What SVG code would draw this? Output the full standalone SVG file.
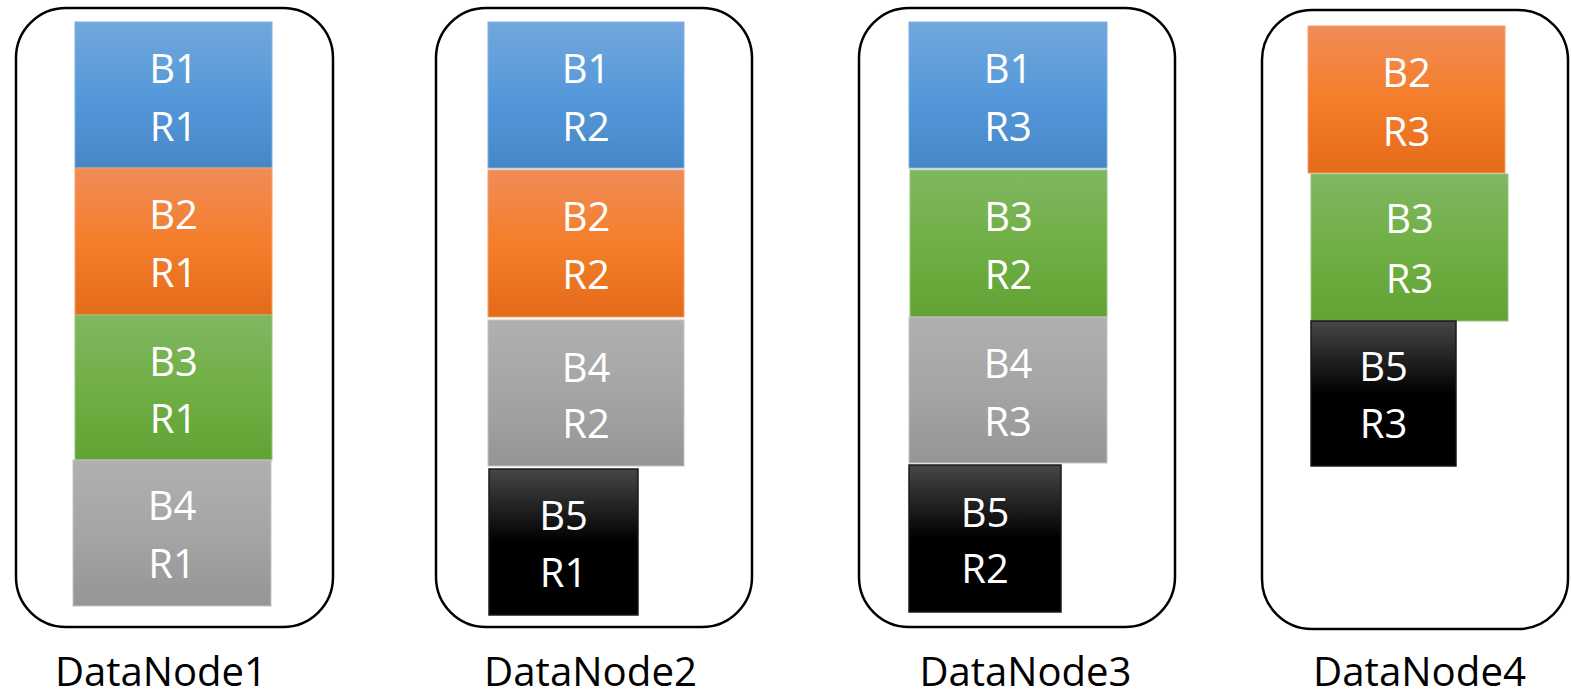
<svg xmlns="http://www.w3.org/2000/svg" width="1571" height="695" viewBox="0 0 1571 695">
  <defs>
    <linearGradient id="gBlue" x1="0" y1="0" x2="0" y2="1">
      <stop offset="0" stop-color="#72A7DC"/>
      <stop offset="0.5" stop-color="#5599DA"/>
      <stop offset="1" stop-color="#4686C6"/>
    </linearGradient>
    <linearGradient id="gOrange" x1="0" y1="0" x2="0" y2="1">
      <stop offset="0" stop-color="#F08C57"/>
      <stop offset="0.5" stop-color="#F47E2B"/>
      <stop offset="1" stop-color="#E46B19"/>
    </linearGradient>
    <linearGradient id="gGreen" x1="0" y1="0" x2="0" y2="1">
      <stop offset="0" stop-color="#80B762"/>
      <stop offset="0.5" stop-color="#70AF44"/>
      <stop offset="1" stop-color="#62A334"/>
    </linearGradient>
    <linearGradient id="gGray" x1="0" y1="0" x2="0" y2="1">
      <stop offset="0" stop-color="#B0B0B0"/>
      <stop offset="0.5" stop-color="#A5A5A5"/>
      <stop offset="1" stop-color="#959595"/>
    </linearGradient>
    <linearGradient id="gBlack" x1="0" y1="0" x2="0" y2="1">
      <stop offset="0" stop-color="#474747"/>
      <stop offset="0.5" stop-color="#000000"/>
      <stop offset="1" stop-color="#000000"/>
    </linearGradient>
  </defs>
  <style>
    .node { fill: #FFFFFF; stroke: #000000; stroke-width: 2.5; }
    .blue { fill: url(#gBlue); stroke: #7FB0E0; stroke-width: 1; }
    .orange { fill: url(#gOrange); stroke: #F4A070; stroke-width: 1; }
    .green { fill: url(#gGreen); stroke: #94C67A; stroke-width: 1; }
    .gray { fill: url(#gGray); stroke: #C4C4C4; stroke-width: 1; }
    .black { fill: url(#gBlack); stroke: #1A1A1A; stroke-width: 1.5; }
    .bt { font-family: "Open Sans", "Liberation Sans", sans-serif; font-size: 40px; fill: #FFFFFF; text-anchor: middle; }
    .lbl { font-family: "Open Sans", "Liberation Sans", sans-serif; font-size: 40px; fill: #000000; text-anchor: middle; }
  </style>

  <g id="datanode1">
    <rect class="node" x="16" y="8" width="317" height="619" rx="50" ry="50"/>
    <g id="dn1-b1"><rect class="blue" x="75" y="22" width="197" height="146"/><text class="bt" x="173.5" y="83">B1</text><text class="bt" x="173.5" y="141">R1</text></g>
    <g id="dn1-b2"><rect class="orange" x="75" y="168" width="197" height="147"/><text class="bt" x="173.5" y="229">B2</text><text class="bt" x="173.5" y="287">R1</text></g>
    <g id="dn1-b3"><rect class="green" x="75" y="315" width="197" height="145"/><text class="bt" x="173.5" y="376">B3</text><text class="bt" x="173.5" y="433">R1</text></g>
    <g id="dn1-b4"><rect class="gray" x="73" y="460" width="198" height="146"/><text class="bt" x="172" y="520">B4</text><text class="bt" x="172" y="578">R1</text></g>
    <text class="lbl" x="161" y="686" textLength="212" lengthAdjust="spacingAndGlyphs">DataNode1</text>
  </g>

  <g id="datanode2">
    <rect class="node" x="436" y="8" width="316" height="619" rx="50" ry="50"/>
    <g id="dn2-b1"><rect class="blue" x="488" y="22" width="196" height="146"/><text class="bt" x="586" y="83">B1</text><text class="bt" x="586" y="141">R2</text></g>
    <g id="dn2-b2"><rect class="orange" x="488" y="170" width="196" height="147"/><text class="bt" x="586" y="231">B2</text><text class="bt" x="586" y="289">R2</text></g>
    <g id="dn2-b4"><rect class="gray" x="488" y="320" width="196" height="146"/><text class="bt" x="586" y="382">B4</text><text class="bt" x="586" y="438">R2</text></g>
    <g id="dn2-b5"><rect class="black" x="489" y="469" width="149" height="146"/><text class="bt" x="563.5" y="530">B5</text><text class="bt" x="563.5" y="587">R1</text></g>
    <text class="lbl" x="590.5" y="686" textLength="213" lengthAdjust="spacingAndGlyphs">DataNode2</text>
  </g>

  <g id="datanode3">
    <rect class="node" x="859" y="8" width="316" height="619" rx="50" ry="50"/>
    <g id="dn3-b1"><rect class="blue" x="909" y="22" width="198" height="146"/><text class="bt" x="1008" y="83">B1</text><text class="bt" x="1008" y="141">R3</text></g>
    <g id="dn3-b3"><rect class="green" x="910" y="170" width="197" height="147"/><text class="bt" x="1008.5" y="231">B3</text><text class="bt" x="1008.5" y="289">R2</text></g>
    <g id="dn3-b4"><rect class="gray" x="909" y="317" width="198" height="146"/><text class="bt" x="1008" y="378">B4</text><text class="bt" x="1008" y="436">R3</text></g>
    <g id="dn3-b5"><rect class="black" x="909" y="465" width="152" height="147"/><text class="bt" x="985" y="527">B5</text><text class="bt" x="985" y="583">R2</text></g>
    <text class="lbl" x="1025.5" y="686" textLength="212" lengthAdjust="spacingAndGlyphs">DataNode3</text>
  </g>

  <g id="datanode4">
    <rect class="node" x="1262" y="10" width="306" height="619" rx="50" ry="50"/>
    <g id="dn4-b2"><rect class="orange" x="1308" y="26" width="197" height="147"/><text class="bt" x="1406.5" y="87">B2</text><text class="bt" x="1406.5" y="146">R3</text></g>
    <g id="dn4-b3"><rect class="green" x="1311" y="174" width="197" height="147"/><text class="bt" x="1409.5" y="233">B3</text><text class="bt" x="1409.5" y="293">R3</text></g>
    <g id="dn4-b5"><rect class="black" x="1311" y="321" width="145" height="145"/><text class="bt" x="1383.5" y="381">B5</text><text class="bt" x="1383.5" y="438">R3</text></g>
    <text class="lbl" x="1419.5" y="686" textLength="213" lengthAdjust="spacingAndGlyphs">DataNode4</text>
  </g>

  <g id="connectors"/>
</svg>
